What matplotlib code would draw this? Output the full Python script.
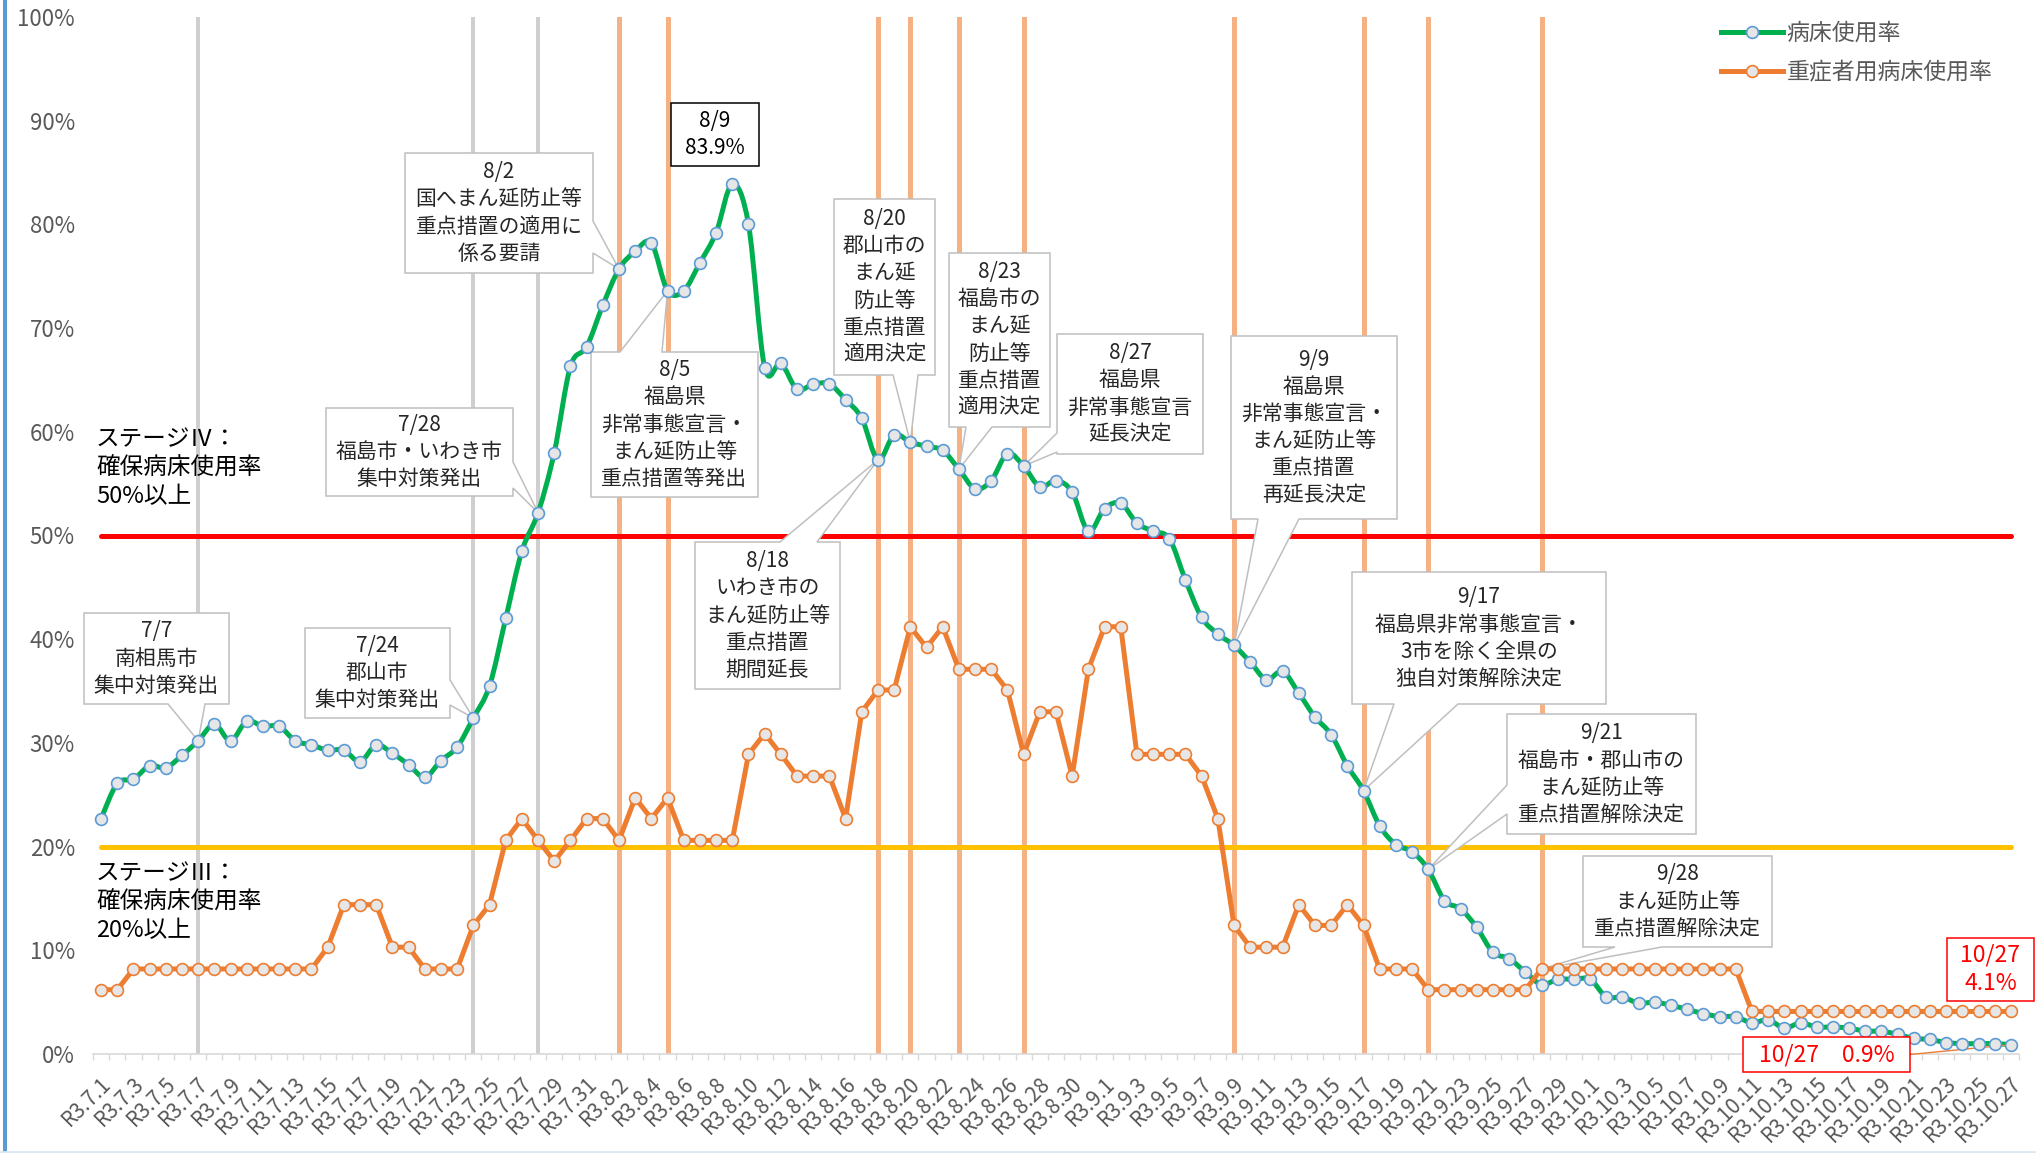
import datetime
import numpy as np
import matplotlib
matplotlib.use("Agg")
import matplotlib.pyplot as plt
from matplotlib.path import Path
from matplotlib.patches import PathPatch, Polygon
from matplotlib.lines import Line2D
from matplotlib.transforms import IdentityTransform, ScaledTranslation

plt.rcParams['font.family'] = ['Noto Sans CJK JP', 'DejaVu Sans']

W, H, DPI = 2036, 1153, 100

# ---------------- data ----------------
start = datetime.date(2021, 7, 1)
categories = []
for k in range(119):
    d = start + datetime.timedelta(days=k)
    categories.append(f"R3.{d.month}.{d.day}")

bed_rate = [
    22.7, 26.1, 26.5, 27.8, 27.6, 28.8, 30.2, 31.8, 30.2, 32.1,
    31.6, 31.6, 30.2, 29.8, 29.3, 29.3, 28.2, 29.8, 29.0, 27.9,
    26.7, 28.3, 29.6, 32.4, 35.5, 42.0, 48.5, 52.2, 58.0, 66.3,
    68.2, 72.2, 75.7, 77.4, 78.2, 73.6, 73.6, 76.3, 79.2, 83.9,
    80.0, 66.2, 66.6, 64.1, 64.6, 64.6, 63.1, 61.3, 57.3, 59.7,
    59.0, 58.6, 58.2, 56.4, 54.5, 55.3, 57.9, 56.7, 54.7, 55.3,
    54.2, 50.4, 52.6, 53.1, 51.2, 50.4, 49.7, 45.7, 42.1, 40.5,
    39.4, 37.8, 36.1, 36.9, 34.8, 32.5, 30.8, 27.8, 25.4, 22.0,
    20.2, 19.5, 17.8, 14.8, 14.0, 12.2, 9.8, 9.2, 7.9, 6.7,
    7.2, 7.2, 7.2, 5.5, 5.5, 4.9, 5.0, 4.7, 4.3, 3.9,
    3.6, 3.6, 3.0, 3.3, 2.5, 3.0, 2.6, 2.6, 2.5, 2.2,
    2.2, 1.9, 1.5, 1.4, 1.1, 1.0, 1.0, 1.0, 0.9,
]

severe_rate = [
    6.2, 6.2, 8.2, 8.2, 8.2, 8.2, 8.2, 8.2, 8.2, 8.2,
    8.2, 8.2, 8.2, 8.2, 10.3, 14.4, 14.4, 14.4, 10.3, 10.3,
    8.2, 8.2, 8.2, 12.4, 14.4, 20.6, 22.7, 20.6, 18.6, 20.6,
    22.7, 22.7, 20.6, 24.7, 22.7, 24.7, 20.6, 20.6, 20.6, 20.6,
    28.9, 30.9, 28.9, 26.8, 26.8, 26.8, 22.7, 33.0, 35.1, 35.1,
    41.2, 39.2, 41.2, 37.1, 37.1, 37.1, 35.1, 28.9, 33.0, 33.0,
    26.8, 37.1, 41.2, 41.2, 28.9, 28.9, 28.9, 28.9, 26.8, 22.7,
    12.4, 10.3, 10.3, 10.3, 14.4, 12.4, 12.4, 14.4, 12.4, 8.2,
    8.2, 8.2, 6.2, 6.2, 6.2, 6.2, 6.2, 6.2, 6.2, 8.2,
    8.2, 8.2, 8.2, 8.2, 8.2, 8.2, 8.2, 8.2, 8.2, 8.2,
    8.2, 8.2, 4.1, 4.1, 4.1, 4.1, 4.1, 4.1, 4.1, 4.1,
    4.1, 4.1, 4.1, 4.1, 4.1, 4.1, 4.1, 4.1, 4.1,
]

series_names = ['病床使用率', '重症者用病床使用率']
gray_events = ['R3.7.7', 'R3.7.24', 'R3.7.28']
orange_events = ['R3.8.2', 'R3.8.5', 'R3.8.18', 'R3.8.20', 'R3.8.23', 'R3.8.27',
                 'R3.9.9', 'R3.9.17', 'R3.9.21', 'R3.9.28']
thresholds = [50, 20]
threshold_colors = ['#FF0000', '#FFC000']
y_ticks = [0, 10, 20, 30, 40, 50, 60, 70, 80, 90, 100]

# callouts: text, box (x0,y0,x1,y1 px from top-left), side, base, series, date
callouts = [
    ("7/7\n南相馬市\n集中対策発出", (84, 613, 229, 704), 'bottom', (168, 205), 0, 'R3.7.7'),
    ("7/24\n郡山市\n集中対策発出", (305, 628, 450, 718), 'right', (680, 705), 0, 'R3.7.24'),
    ("7/28\n福島市・いわき市\n集中対策発出", (326, 408, 513, 496), 'right', (462, 488), 0, 'R3.7.28'),
    ("8/2\n国へまん延防止等\n重点措置の適用に\n係る要請", (405, 153, 593, 273), 'right', (221, 253), 0, 'R3.8.2'),
    ("8/5\n福島県\n非常事態宣言・\nまん延防止等\n重点措置等発出", (591, 352, 758, 497), 'top', (620, 662), 0, 'R3.8.5'),
    ("8/18\nいわき市の\nまん延防止等\n重点措置\n期間延長", (695, 542, 840, 689), 'top', (780, 817), 0, 'R3.8.18'),
    ("8/20\n郡山市の\nまん延\n防止等\n重点措置\n適用決定", (834, 199, 935, 375), 'bottom', (893, 918), 0, 'R3.8.20'),
    ("8/23\n福島市の\nまん延\n防止等\n重点措置\n適用決定", (949, 253, 1050, 427), 'bottom', (966, 992), 0, 'R3.8.23'),
    ("8/27\n福島県\n非常事態宣言\n延長決定", (1057, 334, 1203, 454), 'left', (433, 452), 0, 'R3.8.27'),
    ("9/9\n福島県\n非常事態宣言・\nまん延防止等\n重点措置\n再延長決定", (1231, 336, 1397, 519), 'bottom', (1258, 1299), 0, 'R3.9.9'),
    ("9/17\n福島県非常事態宣言・\n3市を除く全県の\n独自対策解除決定", (1352, 572, 1606, 704), 'bottom', (1394, 1458), 0, 'R3.9.17'),
    ("9/21\n福島市・郡山市の\nまん延防止等\n重点措置解除決定", (1507, 714, 1696, 834), 'left', (785, 814), 0, 'R3.9.21'),
    ("9/28\nまん延防止等\n重点措置解除決定", (1583, 856, 1772, 947), 'bottom', (1615, 1662), 1, 'R3.9.28'),
]

GREEN = '#00B050'
ORANGE = '#ED7D31'
MARKER_FACE = '#E7E6E6'
MARKER_BLUE = '#5B9BD5'
TEXT_GRAY = '#595959'

# ---------------- figure ----------------
fig = plt.figure(figsize=(W / DPI, H / DPI), dpi=DPI)
fig.patch.set_facecolor('white')
ax = fig.add_axes([93 / W, (H - 1054) / H, (2019 - 93) / W, (1054 - 17) / H])
n = len(categories)
x = np.arange(n)
ax.set_xlim(-0.5, n - 0.5)
ax.set_ylim(0, 100)

for s in ['left', 'right', 'top']:
    ax.spines[s].set_visible(False)
ax.spines['bottom'].set_color('#D9D9D9')
ax.spines['bottom'].set_linewidth(1.2)

# event lines
for d in gray_events:
    ax.axvline(categories.index(d), color='#D0CECE', lw=2.9, zorder=1)
for d in orange_events:
    ax.axvline(categories.index(d), color='#F4B183', lw=3.6, zorder=1)

# thresholds
for v, c in zip(thresholds, threshold_colors):
    ax.plot([x[0], x[-1]], [v, v], color=c, lw=3.6, solid_capstyle='round', zorder=2)


def smooth_path(xs, ys):
    pts = np.column_stack([xs, ys]).astype(float)
    m = len(pts)
    verts = [pts[0]]
    codes = [Path.MOVETO]
    for i in range(m - 1):
        p0 = pts[max(i - 1, 0)]
        p1 = pts[i]
        p2 = pts[i + 1]
        p3 = pts[min(i + 2, m - 1)]
        verts += [p1 + (p2 - p0) / 6.0, p2 - (p3 - p1) / 6.0, p2]
        codes += [Path.CURVE4] * 3
    return Path(verts, codes)


ax.add_patch(PathPatch(smooth_path(x, bed_rate), facecolor='none', edgecolor=GREEN,
                       lw=3.6, capstyle='round', joinstyle='round', zorder=4))
ax.plot(x, bed_rate, ls='none', marker='o', ms=8.5, mfc=MARKER_FACE, mec=MARKER_BLUE,
        mew=1.2, zorder=4.5)
ax.plot(x, severe_rate, color=ORANGE, lw=3.6, marker='o', ms=8.5, mfc=MARKER_FACE,
        mec=ORANGE, mew=1.2, zorder=5, solid_joinstyle='round')

# ticks
ax.set_yticks(y_ticks)
ax.set_yticklabels([f"{v}%" for v in y_ticks], fontsize=16, color=TEXT_GRAY)
ax.tick_params(axis='y', length=0, pad=13)

ax.set_xticks(x[::2])
ax.set_xticklabels(categories[::2], rotation=45, ha='right', va='center',
                   rotation_mode='anchor', fontsize=15, color=TEXT_GRAY)
ax.tick_params(axis='x', which='major', length=0, pad=19)
ax.set_xticks(np.arange(-0.5, n, 1), minor=True)
ax.tick_params(axis='x', which='minor', length=4, width=1, color='#D9D9D9', direction='out')
offset = ScaledTranslation(7 / DPI, 0, fig.dpi_scale_trans)
for lab in ax.get_xticklabels():
    lab.set_transform(lab.get_transform() + offset)

# legend
handles = [
    Line2D([], [], color=GREEN, lw=3.6, marker='o', ms=8.5, mfc=MARKER_FACE, mec=MARKER_BLUE, mew=1.2),
    Line2D([], [], color=ORANGE, lw=3.6, marker='o', ms=8.5, mfc=MARKER_FACE, mec=ORANGE, mew=1.2),
]
ax.legend(handles, series_names, loc='upper left', bbox_to_anchor=(1721 / W, 1 - 22 / H),
          bbox_transform=fig.transFigure, frameon=False, fontsize=16.5, handlelength=2.7,
          handletextpad=0.15, labelspacing=0.7, borderpad=0, borderaxespad=0,
          labelcolor=TEXT_GRAY)

IDT = IdentityTransform()
series = [bed_rate, severe_rate]


def add_box(x0, y0, x1, y1, text, edge, tcolor, fs, side=None, base=None, tip=None, z=6):
    T, B = H - y0, H - y1
    verts = [(x0, T)]
    if side == 'top':
        verts += [(base[0], T), tuple(tip), (base[1], T)]
    verts += [(x1, T)]
    if side == 'right':
        verts += [(x1, H - base[0]), tuple(tip), (x1, H - base[1])]
    verts += [(x1, B)]
    if side == 'bottom':
        verts += [(base[1], B), tuple(tip), (base[0], B)]
    verts += [(x0, B)]
    if side == 'left':
        verts += [(x0, H - base[1]), tuple(tip), (x0, H - base[0])]
    poly = Polygon(verts, closed=True, facecolor='white', edgecolor=edge, lw=1.1,
                   transform=IDT, zorder=z, clip_on=False, joinstyle='miter')
    ax.add_patch(poly)
    ax.text((x0 + x1) / 2, H - (y0 + y1) / 2, text, transform=IDT, ha='center', va='center',
            fontsize=fs, color=tcolor, linespacing=1.3, zorder=z + 0.1, clip_on=False)


for text, box, side, base, si, d in callouts:
    i = categories.index(d)
    tip = ax.transData.transform((i, series[si][i]))
    add_box(*box, text, '#BFBFBF', '#262626', 15, side, base, tip, z=3.2)

# peak box
peak_i = int(np.argmax(bed_rate))
add_box(671, 103, 759, 166, f"8/9\n{bed_rate[peak_i]:.1f}%", '#000000', '#000000', 15, z=6)

# final value boxes
add_box(1947, 938, 2034, 1001, f"10/27\n{severe_rate[-1]:.1f}%", '#FF0000', '#FF0000', 16.5, z=6)
add_box(1743, 1037, 1910, 1072, f"10/27　{bed_rate[-1]:.1f}%", '#FF0000', '#FF0000', 16.5, z=6)
tip = ax.transData.transform((x[-1], bed_rate[-1]))
ax.add_line(Line2D([1910, tip[0]], [H - 1054.5, tip[1]], transform=IDT, color=ORANGE,
                   lw=1.0, zorder=4.2, clip_on=False))

# stage text
ax.text(96, H - 428, "ステージⅣ：\n確保病床使用率\n50%以上", transform=IDT, ha='left', va='top',
        fontsize=17, color='#000000', linespacing=1.3, clip_on=False)
ax.text(96, H - 862, "ステージⅢ：\n確保病床使用率\n20%以上", transform=IDT, ha='left', va='top',
        fontsize=17, color='#000000', linespacing=1.3, clip_on=False)

# frame edges
fig.add_artist(Line2D([5, 5], [0, H], transform=IDT, color='#5B9BD5', lw=2.9))
fig.add_artist(Line2D([0, W], [1.5, 1.5], transform=IDT, color='#DAE8F5', lw=2.0))

fig.savefig('out.png', dpi=DPI, facecolor='white')
